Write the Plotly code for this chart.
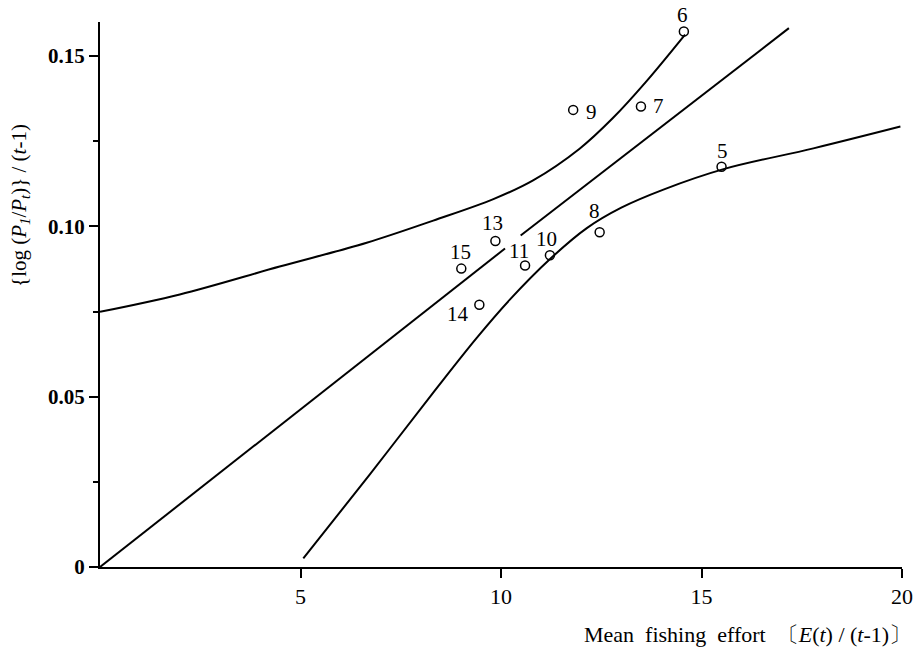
import plotly.graph_objects as go

# Observed points (x: mean fishing effort, y: {log(P1/Pt)}/(t-1))
point_labels = ["5", "6", "7", "8", "9", "10", "11", "13", "14", "15"]
point_x = [15.50, 14.56, 13.49, 12.46, 11.80, 11.22, 10.60, 9.86, 9.46, 9.01]
point_y = [0.1175, 0.1572, 0.1352, 0.0983, 0.1342, 0.0915, 0.0885, 0.0957, 0.0770, 0.0876]

# Regression line (drawn in two pieces, broken near label 11)
reg_x = [0.0, 10.10, None, 10.49, 17.18]
reg_y = [0.0, 0.0935, None, 0.0973, 0.1582]

# Upper confidence curve
up_x = [0.0, 1.99, 4.48, 6.65, 8.31, 9.81, 10.80, 11.96, 12.79, 13.62, 14.59]
up_y = [0.0749, 0.0800, 0.0882, 0.0952, 0.1017, 0.1080, 0.1135, 0.1228, 0.1318, 0.1425, 0.1563]

# Lower confidence curve
lo_x = [5.07, 6.73, 8.31, 9.39, 10.22, 11.23, 12.14, 13.00, 14.05, 15.55, 17.79, 19.96]
lo_y = [0.0025, 0.0272, 0.0512, 0.0672, 0.0785, 0.0905, 0.0995, 0.1055, 0.1108, 0.1168, 0.1229, 0.1293]

x_ticks = [5, 10, 15, 20]
y_ticks = [0, 0.05, 0.10, 0.15]
y_tick_labels = ["0", "0.05", "0.10", "0.15"]

SERIF = "Liberation Serif, DejaVu Serif, serif"

fig = go.Figure()
line_style = dict(color="black", width=2, shape="spline", smoothing=1.0)
fig.add_trace(go.Scatter(x=up_x, y=up_y, mode="lines", line=line_style, hoverinfo="skip"))
fig.add_trace(go.Scatter(x=lo_x, y=lo_y, mode="lines", line=line_style, hoverinfo="skip"))
fig.add_trace(go.Scatter(x=reg_x, y=reg_y, mode="lines", line=dict(color="black", width=2),
                         connectgaps=False, hoverinfo="skip"))
fig.add_trace(go.Scatter(x=point_x, y=point_y, mode="markers",
                         marker=dict(symbol="circle-open", size=9, color="black",
                                     line=dict(width=1.5, color="black"))))

# label offsets in pixels (xshift, yshift)
offsets = {
    "5": (1, 16), "6": (-1, 17), "7": (18, 0), "8": (-5, 21), "9": (18, -2),
    "10": (-3, 16), "11": (-6, 15), "13": (-3, 18), "14": (-21, -9), "15": (-1, 17),
}
for lab, px, py in zip(point_labels, point_x, point_y):
    dx, dy = offsets[lab]
    fig.add_annotation(x=px, y=py, text=lab, showarrow=False, xshift=dx, yshift=dy,
                       font=dict(family=SERIF, size=21, color="black"))

# axis titles
fig.add_annotation(xref="paper", yref="paper", x=1.014, y=-0.123, xanchor="right", yanchor="middle",
                   text="Mean  fishing  effort  〔<i>E</i>(<i>t</i>) / (<i>t</i>-1)〕", showarrow=False,
                   font=dict(family=SERIF, size=22, color="black"))
fig.add_annotation(xref="paper", yref="paper", x=-0.1, y=0.664, xanchor="center", yanchor="middle",
                   textangle=-90,
                   text="{log (<i>P</i><sub><i>1</i></sub>/<i>P</i><sub><i>t</i></sub>)} / (<i>t</i>-1)",
                   showarrow=False, font=dict(family=SERIF, size=21, color="black"))

fig.update_layout(
    width=916, height=649,
    margin=dict(l=100, r=14, t=22, b=82, autoexpand=False),
    paper_bgcolor="white", plot_bgcolor="white",
    showlegend=False,
    xaxis=dict(range=[0, 20], tickvals=x_ticks, ticktext=[str(v) for v in x_ticks],
               automargin=False,
               showgrid=False, zeroline=False, showline=True, linecolor="black", linewidth=2,
               ticks="outside", ticklen=9, tickwidth=2, tickcolor="black",
               tickfont=dict(family=SERIF, size=22, color="black")),
    yaxis=dict(range=[0, 0.16], tickvals=y_ticks, ticktext=y_tick_labels,
               automargin=False,
               showgrid=False, zeroline=False, showline=True, linecolor="black", linewidth=2,
               ticks="outside", ticklen=9, tickwidth=2, tickcolor="black",
               tickfont=dict(family=SERIF, size=21, color="black", weight="bold"),
               minor=dict(tickvals=[0.025, 0.075, 0.125], ticks="outside", ticklen=5,
                          tickwidth=2, tickcolor="black")),
)

fig.write_html("out.html", config={"displayModeBar": False},
               post_script="document.body.style.margin='0';document.body.style.overflow='hidden';")
